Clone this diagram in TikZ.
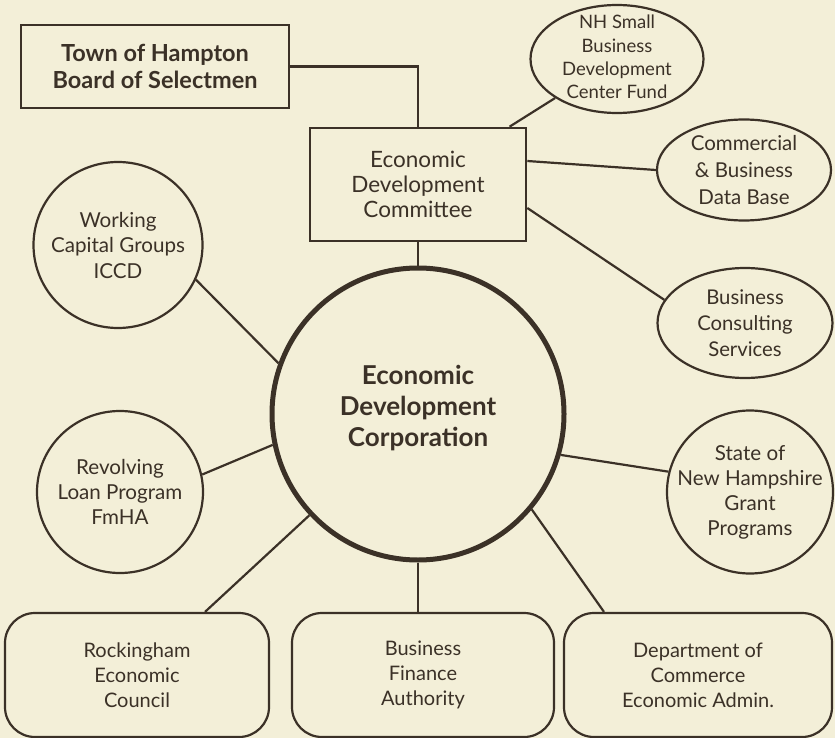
\documentclass[tikz,border=0pt]{standalone}
\usepackage{fontspec}
\setmainfont{Lato}
\usetikzlibrary{shapes.geometric,calc}
\definecolor{paper}{HTML}{F3EFD8}
\definecolor{ink}{HTML}{3B3127}
\tikzset{
  every node/.style={align=center, text=ink, inner sep=0pt},
  sqbox/.style={draw=ink, line width=2.6pt, rectangle},
  oval/.style={draw=ink, line width=2.2pt, ellipse},
  rbox/.style={draw=ink, line width=2.2pt, rectangle, rounded corners=30pt},
  bigcirc/.style={draw=ink, line width=5pt, circle},
  link/.style={draw=ink, line width=2.2pt},
  lbl/.style={draw=none, text=ink, align=center, inner sep=0pt},
}
\begin{document}
\begin{tikzpicture}[x=1pt,y=-1pt]
\fill[paper] (0,0) rectangle (835,738);
\useasboundingbox (0,0) rectangle (835,738);
% boxes
\node[sqbox, minimum width=268pt, minimum height=83pt, font=\bfseries\fontsize{23.5}{27}\selectfont] (town) at (155,66.5) {Town of Hampton\\Board of Selectmen};
\node[sqbox, minimum width=216pt, minimum height=113pt, font=\fontsize{22.5}{25}\selectfont] (edc) at (418,184.5) {Economic\\Development\\Committee};
\node[bigcirc, minimum size=292pt] (corp) at (418,414) {};
\node[lbl, font=\bfseries\fontsize{26}{31}\selectfont] (corpt) at (418,408) {Economic\\Development\\Corporation};
% ovals
\node[oval, minimum width=173pt, minimum height=108pt] (nh) at (617,59) {};
\node[lbl, font=\fontsize{18.5}{23.3}\selectfont] (nht) at (617,57) {NH Small\\Business\\Development\\Center Fund};
\node[oval, minimum width=174pt, minimum height=101pt] (com) at (744,170) {};
\node[lbl, font=\fontsize{20.5}{27}\selectfont] (comt) at (744,170) {Commercial\\\& Business\\Data Base};
\node[oval, minimum width=175pt, minimum height=110pt] (bcs) at (745,323) {};
\node[lbl, font=\fontsize{20.3}{26}\selectfont] (bcst) at (745,323) {Business\\Consulting\\Services};
\node[oval, minimum width=166pt, minimum height=163pt] (state) at (750,492) {};
\node[lbl, font=\fontsize{20.6}{25}\selectfont] (statet) at (750,492) {State of\\New Hampshire\\Grant\\Programs};
\node[oval, minimum width=169pt, minimum height=166pt] (work) at (118,245) {};
\node[lbl, font=\fontsize{20.6}{25.5}\selectfont] (workt) at (118,245) {Working\\Capital Groups\\ICCD};
\node[oval, minimum width=166pt, minimum height=162pt] (rev) at (120,492) {};
\node[lbl, font=\fontsize{20.6}{25}\selectfont] (revt) at (120,492) {Revolving\\Loan Program\\FmHA};
% bottom boxes
\node[rbox, minimum width=264pt, minimum height=124pt, font=\fontsize{20}{25}\selectfont] (rock) at (137,675) {Rockingham\\Economic\\Council};
\node[rbox, minimum width=262pt, minimum height=124pt, font=\fontsize{20}{25}\selectfont] (bfa) at (423,675) {Business\\Finance\\Authority};
\node[rbox, minimum width=268pt, minimum height=124pt, font=\fontsize{20}{25}\selectfont] (doc) at (698,675) {Department of\\Commerce\\Economic Admin.};
% connectors
\draw[link] (town.east) -| (edc.north);
\draw[link] (edc) -- (nh);
\draw[link] ([yshift=23.5pt]edc.east) -- (com.west);
\draw[link] ([yshift=-23.5pt]edc.east) -- (bcs.164);
\draw[link] (edc.south) -- (corp.north);
\draw[link] (corp.160) -- (work.-24);
\draw[link] (corp.-168) -- (rev.12);
\draw[link] (corp.-16) -- (state.166);
\draw[link] (corp.-137) -- ([xshift=68pt]rock.north);
\draw[link] (corp.south) -- (corp.south |- bfa.north);
\draw[link] (corp.-40) -- ([xshift=-94pt]doc.north);
\end{tikzpicture}
\end{document}
